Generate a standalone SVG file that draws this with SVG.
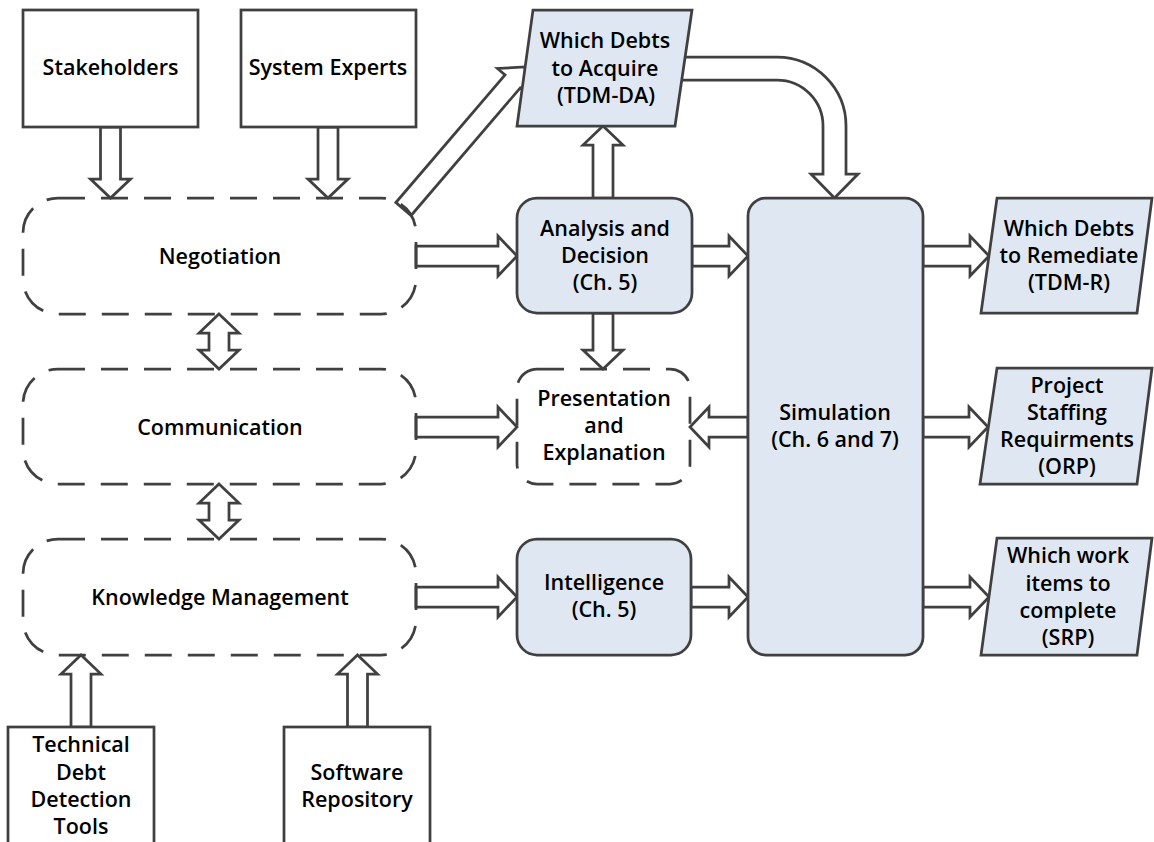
<svg xmlns="http://www.w3.org/2000/svg" width="1154" height="842" viewBox="0 0 1154 842">
<style>
.box{fill:#ffffff;stroke:#404040;stroke-width:2.75}
.blue{fill:#dfe8f2;stroke:#404040;stroke-width:2.75;stroke-linejoin:miter}
.dash{fill:none;stroke:#404040;stroke-width:2.75;stroke-dasharray:27 16}
.arr{fill:#ffffff;stroke:#404040;stroke-width:2.75;stroke-linejoin:miter}
text{font-family:"Open Sans","Noto Sans","Liberation Sans",sans-serif;font-weight:600;font-size:21.5px;fill:#000;text-anchor:middle}
</style>
<rect width="1154" height="842" fill="#ffffff"/>
<g id="connectors">
<polygon class="arr" points="416,246 498,246 498,236 517,256 498,276 498,266 416,266"/>
<polygon class="arr" points="692,246 729,246 729,236 748,256 729,276 729,266 692,266"/>
<polygon class="arr" points="923,246 970,246 970,236 989,256 970,276 970,266 923,266"/>
<polygon class="arr" points="416,417 498,417 498,407 517,427 498,447 498,437 416,437"/>
<polygon class="arr" points="748,417 709,417 709,407 690,427 709,447 709,437 748,437"/>
<polygon class="arr" points="923,417 969,417 969,407 988,427 969,447 969,437 923,437"/>
<polygon class="arr" points="416,587 498,587 498,577 517,597 498,617 498,607 416,607"/>
<polygon class="arr" points="691,587 729,587 729,577 748,597 729,617 729,607 691,607"/>
<polygon class="arr" points="923,587 970,587 970,577 989,597 970,617 970,607 923,607"/>
<polygon class="arr" points="100.5,127 100.5,179 90.5,179 110.5,198 130.5,179 120.5,179 120.5,127"/>
<polygon class="arr" points="318,127 318,179 308,179 328,198 348,179 338,179 338,127"/>
<polygon class="arr" points="593,313 593,350 583,350 603,369 623,350 613,350 613,313"/>
<polygon class="arr" points="593,198 593,145 583,145 603,126 623,145 613,145 613,198"/>
<polygon class="arr" points="71,727 71,674 61,674 81,655 101,674 91,674 91,727"/>
<polygon class="arr" points="347.5,727 347.5,674 337.5,674 357.5,655 377.5,674 367.5,674 367.5,727"/>
<polygon class="arr" points="219,314 239,333 229,333 229,350 239,350 219,369 199,350 209,350 209,333 199,333"/>
<polygon class="arr" points="219,484 239,503 229,503 229,520 239,520 219,539 199,520 209,520 209,503 199,503"/>
<polygon class="arr" points="395.9,202.5 505.05,74.94 497.45,68.44 525,67 527.85,94.44 520.25,87.94 411.1,215.5"/>
<path class="arr" d="M680,57 L777,57 A69,69 0 0 1 846,126 L846,174 L858,174 L834.5,198 L811,174 L823,174 L823,126 A46,46 0 0 0 777,80 L680,80 Z"/>
</g>
<g id="stakeholders">
<rect class="box" x="23" y="10" width="175" height="117"/>
<text x="110.5" y="75">Stakeholders</text>
</g>
<g id="system-experts">
<rect class="box" x="241" y="10" width="175" height="117"/>
<text x="328" y="75">System Experts</text>
</g>
<g id="negotiation">
<rect class="dash" x="23" y="198" width="393" height="116" rx="35" ry="35"/>
<text x="220" y="264">Negotiation</text>
</g>
<g id="communication">
<rect class="dash" x="23" y="369" width="393" height="115" rx="35" ry="35"/>
<text x="220" y="435">Communication</text>
</g>
<g id="knowledge-management">
<rect class="dash" x="23" y="539" width="393" height="116" rx="35" ry="35"/>
<text x="220" y="605">Knowledge Management</text>
</g>
<g id="td-detection-tools">
<rect class="box" x="8" y="727" width="146" height="130"/>
<text x="81" y="752">Technical</text>
<text x="81" y="780">Debt</text>
<text x="81" y="807">Detection</text>
<text x="81" y="834">Tools</text>
</g>
<g id="software-repository">
<rect class="box" x="284" y="727" width="146" height="130"/>
<text x="357" y="780">Software</text>
<text x="357" y="807">Repository</text>
</g>
<g id="tdm-da">
<polygon class="blue" points="533,10 692,10 675,126 517,126"/>
<text x="605" y="48">Which Debts</text>
<text x="605" y="76">to Acquire</text>
<text x="606" y="103">(TDM-DA)</text>
</g>
<g id="analysis-decision">
<rect class="blue" x="517" y="198" width="175" height="115" rx="20" ry="20"/>
<text x="605" y="236">Analysis and</text>
<text x="605" y="263">Decision</text>
<text x="605" y="290">(Ch. 5)</text>
</g>
<g id="presentation">
<rect class="dash" x="517" y="369" width="173" height="115" rx="20" ry="20"/>
<text x="604" y="406">Presentation</text>
<text x="604" y="433">and</text>
<text x="604" y="460">Explanation</text>
</g>
<g id="intelligence">
<rect class="blue" x="517" y="539" width="174" height="116" rx="20" ry="20"/>
<text x="604" y="590">Intelligence</text>
<text x="604" y="617">(Ch. 5)</text>
</g>
<g id="simulation">
<rect class="blue" x="748" y="198" width="175" height="457" rx="18" ry="18"/>
<text x="835" y="420">Simulation</text>
<text x="835" y="447">(Ch. 6 and 7)</text>
</g>
<g id="tdm-r">
<polygon class="blue" points="997,198 1152,198 1137,313 981,313"/>
<text x="1069" y="236">Which Debts</text>
<text x="1069" y="263">to Remediate</text>
<text x="1069" y="290">(TDM-R)</text>
</g>
<g id="orp">
<polygon class="blue" points="997,368 1152,368 1137,484 980,484"/>
<text x="1067" y="393">Project</text>
<text x="1067" y="420">Staffing</text>
<text x="1067" y="447">Requirments</text>
<text x="1067" y="474">(ORP)</text>
</g>
<g id="srp">
<polygon class="blue" points="997,538 1152,538 1137,655 981,655"/>
<text x="1068" y="563">Which work</text>
<text x="1068" y="591">items to</text>
<text x="1068" y="618">complete</text>
<text x="1068" y="645">(SRP)</text>
</g>
</svg>
